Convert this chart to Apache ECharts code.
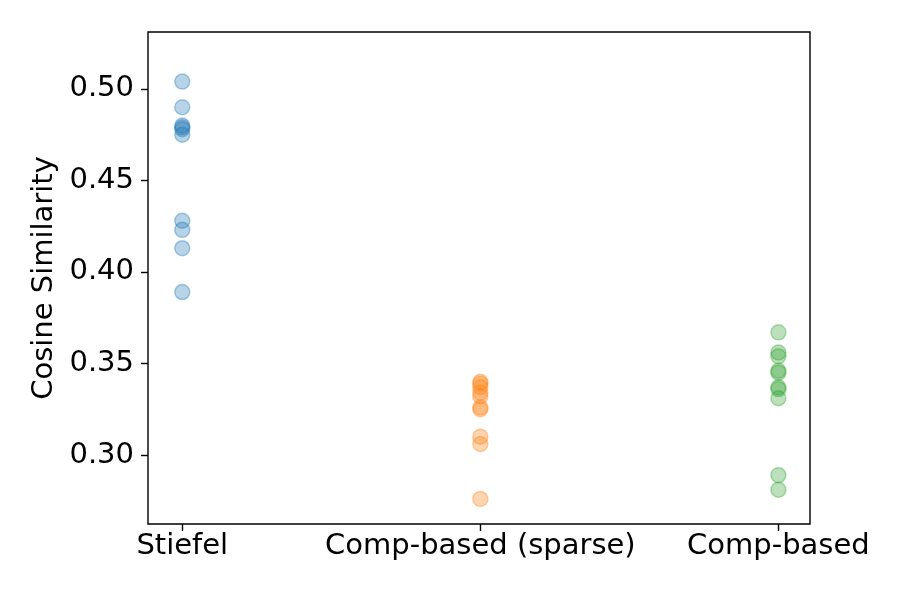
<!DOCTYPE html>
<html>
<head>
<meta charset="utf-8">
<script src="https://cdn.jsdelivr.net/npm/echarts@6/dist/echarts.min.js"></script>
<style>html,body{margin:0;padding:0;background:#fff}#c{width:900px;height:600px}</style>
</head>
<body>
<div id="c"></div>
<script>
const categories = ["Stiefel", "Comp-based (sparse)", "Comp-based"];
const stiefel = [0.504, 0.490, 0.480, 0.479, 0.478, 0.475, 0.428, 0.423, 0.413, 0.389];
const compSparse = [0.340, 0.339, 0.337, 0.334, 0.332, 0.326, 0.325, 0.310, 0.306, 0.276];
const compBased = [0.367, 0.356, 0.354, 0.346, 0.345, 0.337, 0.336, 0.331, 0.289, 0.281];
const yTicks = [0.30, 0.35, 0.40, 0.45, 0.50];
const colors = ["#1f77b4", "#ff7f0e", "#2ca02c"];

function rgba(hex, a) {
  const n = parseInt(hex.slice(1), 16);
  return `rgba(${(n >> 16) & 255},${(n >> 8) & 255},${n & 255},${a})`;
}
const groups = [stiefel, compSparse, compBased];
const font = "DejaVu Sans";
const chart = echarts.init(document.getElementById("c"), null, {renderer: "canvas"});
chart.setOption({
  animation: false,
  backgroundColor: "#fff",
  grid: {left: 148, top: 32, right: 90, bottom: 76, show: true, borderColor: "#000", borderWidth: 1.4, backgroundColor: "transparent"},
  xAxis: {
    type: "value", min: -0.115, max: 2.106,
    axisLine: {show: false, onZero: false},
    splitLine: {show: false},
    axisTick: {show: true, inside: false, length: 7, customValues: [0, 1, 2], lineStyle: {color: "#000", width: 1.4}},
    axisLabel: {customValues: [0, 1, 2], margin: 8, color: "#000", fontFamily: font, fontSize: 29,
      formatter: v => categories[Math.round(v)]}
  },
  yAxis: {
    type: "value", min: 0.2623, max: 0.5311,
    name: "Cosine Similarity", nameLocation: "middle", nameGap: 88, nameRotate: 90,
    nameTextStyle: {color: "#000", fontFamily: font, fontSize: 29},
    axisLine: {show: false, onZero: false},
    splitLine: {show: false},
    axisTick: {show: true, inside: false, length: 7, customValues: yTicks, lineStyle: {color: "#000", width: 1.4}},
    axisLabel: {customValues: yTicks, margin: 14, color: "#000", fontFamily: font, fontSize: 29,
      formatter: v => v.toFixed(2)}
  },
  series: groups.map((g, i) => ({
    type: "scatter",
    symbol: "circle",
    symbolSize: 15,
    data: g.map(v => [i, v]),
    itemStyle: {color: rgba(colors[i], 0.4), borderColor: rgba(colors[i], 0.45), borderWidth: 1.5}
  }))
});
</script>
</body>
</html>
